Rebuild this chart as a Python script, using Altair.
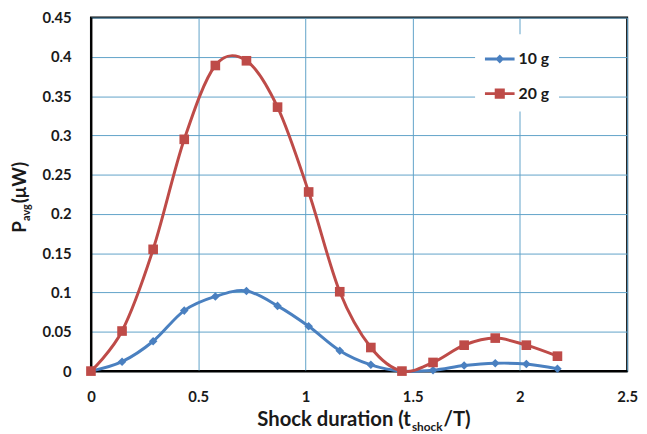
import altair as alt
import pandas as pd

# ---- data ----
x_vals = [0, 0.145, 0.29, 0.435, 0.58, 0.725, 0.87, 1.015, 1.16, 1.305,
          1.45, 1.595, 1.74, 1.885, 2.03, 2.175]
p_10g = [0, 0.012, 0.038, 0.077, 0.095, 0.102, 0.083, 0.057, 0.026, 0.008,
         0.0, 0.001, 0.007, 0.010, 0.009, 0.003]
p_20g = [0, 0.051, 0.155, 0.295, 0.389, 0.395, 0.336, 0.228, 0.101, 0.030,
         0.0, 0.011, 0.033, 0.042, 0.033, 0.019]
series_names = ["10 g", "20 g"]
series_colors = ["#4A80C0", "#BE4B48"]
x_ticks = [0, 0.5, 1, 1.5, 2, 2.5]
y_ticks = [0, 0.05, 0.1, 0.15, 0.2, 0.25, 0.3, 0.35, 0.4, 0.45]

rows = []
for xv, a, b in zip(x_vals, p_10g, p_20g):
    rows.append({"x": xv, "p": a, "series": "10 g"})
    rows.append({"x": xv, "p": b, "series": "20 g"})
df = pd.DataFrame(rows)

FONT = "Lato"
GRID = "#5FA2C8"

x_axis = alt.Axis(values=x_ticks, format="~g", title=None, grid=True,
                  ticks=False, labelPadding=19, labelFlush=False)
y_axis = alt.Axis(values=y_ticks, format="~g", title=None, grid=True,
                  ticks=False, labelPadding=20, labelFlush=False)
x_scale = alt.Scale(domain=[0, 2.5], nice=False)
y_scale = alt.Scale(domain=[0, 0.45], nice=False)
xenc = alt.X("x:Q", scale=x_scale, axis=x_axis)
yenc = alt.Y("p:Q", scale=y_scale, axis=y_axis)


def series_layers(name, color, shape, size):
    base = alt.Chart(df).transform_filter(alt.datum.series == name)
    ln = base.mark_line(interpolate="cardinal", strokeWidth=3, color=color).encode(x=xenc, y=yenc)
    pt = base.mark_point(filled=True, opacity=1, shape=shape, size=size, color=color).encode(x=xenc, y=yenc)
    return ln, pt


l10, p10 = series_layers("10 g", series_colors[0], "diamond", 75)
l20, p20 = series_layers("20 g", series_colors[1], "square", 95)

path_d = "M-1,-0.1L1,-0.1L1,0.1L-1,0.1Z M0,-0.3L0.3,0L0,0.3L-0.3,0Z"
path_s = "M-1,-0.1L1,-0.1L1,0.1L-1,0.1Z M-0.34,-0.34L0.34,-0.34L0.34,0.34L-0.34,0.34Z"

leg = alt.Legend(title=None, orient="none", legendX=389, legendY=17,
                 symbolSize=900, symbolStrokeWidth=0, symbolOpacity=1,
                 labelFont=FONT, labelFontSize=16, labelFontWeight="bold",
                 labelColor="#1a1a1a", labelOffset=4, rowPadding=12,
                 fillColor="white", padding=10)

# legend-only layer: its points are moved below the plot floor and clipped away
legend_layer = alt.Chart(df).transform_calculate(
    p_hidden="datum.p - 1"
).mark_point(filled=True, opacity=1, clip=True).encode(
    x=xenc,
    y=alt.Y("p_hidden:Q", scale=y_scale, axis=y_axis),
    color=alt.Color("series:N", scale=alt.Scale(domain=series_names, range=series_colors), legend=leg),
    shape=alt.Shape("series:N", scale=alt.Scale(domain=series_names, range=[path_d, path_s]), legend=leg),
)

one = pd.DataFrame({"k": [0]})


def txt(s, x, y, size, angle=0, align="left", baseline="alphabetic"):
    kw = dict(font=FONT, fontWeight="bold", fontSize=size, color="#1a1a1a",
              align=align, baseline=baseline)
    if angle:
        kw["angle"] = angle
    return alt.Chart(one).mark_text(**kw).encode(
        x=alt.value(x), y=alt.value(y), text=alt.value(s))


# x-axis title: Shock duration (t_shock/T)
xt1 = txt("Shock duration (t", 324, 414, 20.5, align="right")
xt2 = txt("shock", 325, 419, 12)
xt3 = txt("/T)", 357, 414, 20.5)
# y-axis title: P_avg (μW)
yt1 = txt("P", -66, 218, 19, angle=270)
yt2 = txt("avg", -62, 206, 11, angle=270)
yt3 = txt(" (μW)", -66, 188, 19, angle=270)

chart = alt.layer(l10, l20, p10, p20, legend_layer, xt1, xt2, xt3, yt1, yt2, yt3).properties(
    width=543, height=358, autosize="none",
    padding={"left": 84, "top": 7, "right": 12, "bottom": 60},
).configure_view(stroke="black", strokeWidth=2).configure_axis(
    gridColor=GRID, gridWidth=1, gridOpacity=1,
    domainColor="black", domainWidth=2,
    labelFont=FONT, labelFontSize=15, labelFontWeight="bold", labelColor="#1a1a1a",
)

chart.save("out.html", embed_options={"renderer": "svg", "actions": False})
